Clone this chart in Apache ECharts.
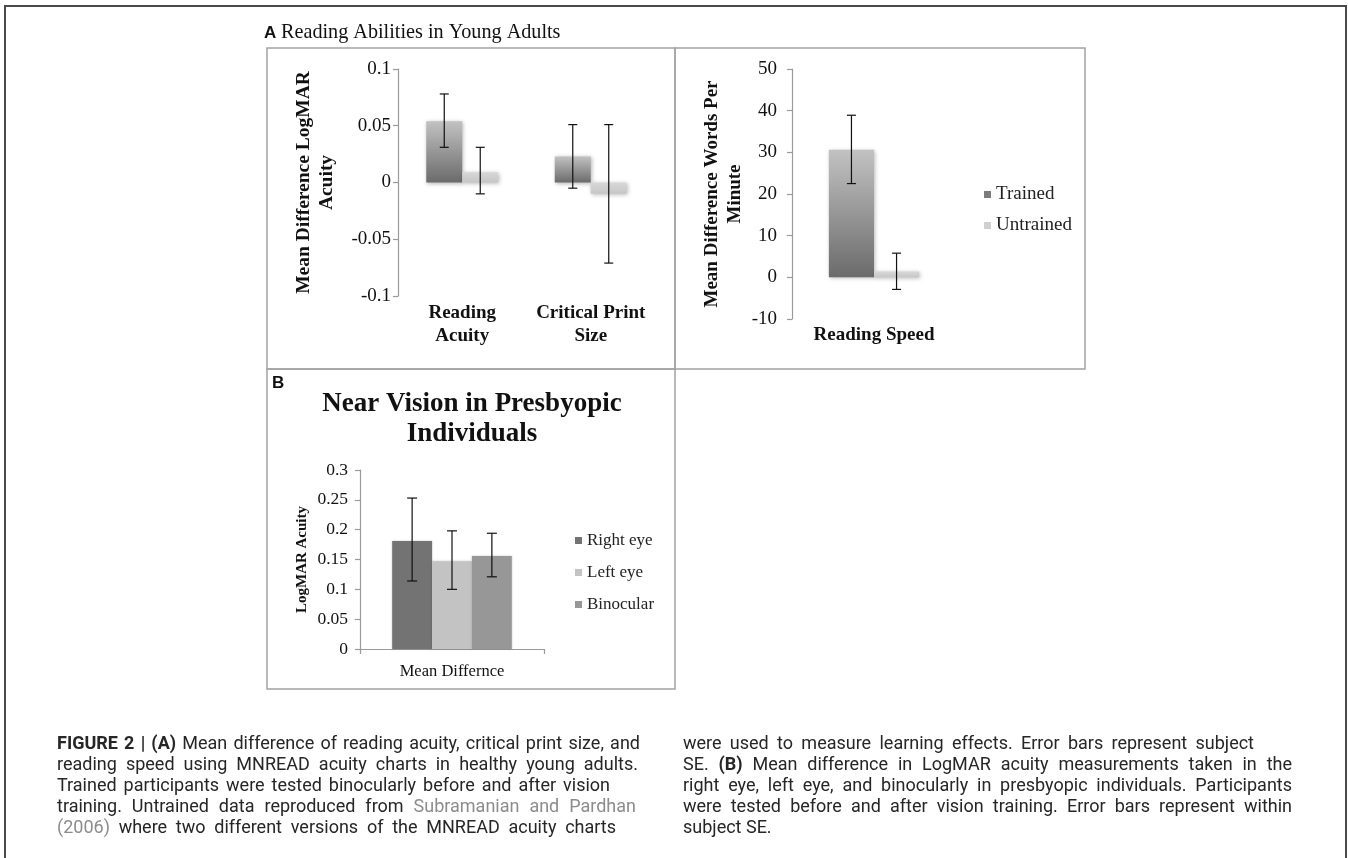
<!DOCTYPE html>
<html><head><meta charset="utf-8">
<script src="https://cdn.jsdelivr.net/npm/echarts@6/dist/echarts.min.js"></script>
<style>html,body{margin:0;padding:0;background:#fff}#c{width:1348px;height:858px}</style>
</head><body><div id="c"></div>
<script>
// ---------- Panel A (left): reading acuity & critical print size ----------
const catsAcuity = ['Reading\nAcuity', 'Critical Print\nSize'];
const trainedAcuity = [0.054, 0.023];
const trainedAcuityLow = [0.031, -0.005];
const trainedAcuityHigh = [0.078, 0.051];
const untrainedAcuity = [0.009, -0.010];
const untrainedAcuityLow = [-0.010, -0.071];
const untrainedAcuityHigh = [0.031, 0.051];
const acuityMin = -0.1, acuityMax = 0.1, acuityStep = 0.05;

// ---------- Panel A (right): reading speed ----------
const catsSpeed = ['Reading Speed'];
const trainedSpeed = [30.6];
const trainedSpeedLow = [22.5];
const trainedSpeedHigh = [38.9];
const untrainedSpeed = [1.4];
const untrainedSpeedLow = [-2.9];
const untrainedSpeedHigh = [5.8];
const speedMin = -10, speedMax = 50, speedStep = 10;

// ---------- Panel B: near vision in presbyopic individuals ----------
const catsNear = ['Mean Differnce'];
const rightEye = [0.181], rightEyeLow = [0.114], rightEyeHigh = [0.253];
const leftEye = [0.147], leftEyeLow = [0.100], leftEyeHigh = [0.198];
const binocular = [0.156], binocularLow = [0.121], binocularHigh = [0.194];
const nearMin = 0, nearMax = 0.3, nearStep = 0.05;

// ---------- caption ----------
const captionLeft = [
  [['FIGURE 2 | (A)', 'b'], [' Mean difference of reading acuity, critical print size, and', '']],
  [['reading speed using MNREAD acuity charts in healthy young adults.', '']],
  [['Trained participants were tested binocularly before and after vision', '']],
  [['training. Untrained data reproduced from ', ''], ['Subramanian and Pardhan', 'g']],
  [['(2006)', 'g'], [' where two different versions of the MNREAD acuity charts', '']]
];
const captionRight = [
  [['were used to measure learning effects. Error bars represent subject', '']],
  [['SE. ', ''], ['(B)', 'b'], [' Mean difference in LogMAR acuity measurements taken in the', '']],
  [['right eye, left eye, and binocularly in presbyopic individuals. Participants', '']],
  [['were tested before and after vision training. Error bars represent within', '']],
  [['subject SE.', '']]
];

const SERIF = 'Liberation Serif';
const gapA = 0.44, gapS = 0.45, gapN = 0.35;

const trainedGrad = {type:'linear', x:0, y:0, x2:0, y2:1, colorStops:[{offset:0,color:'#c2c2c2'},{offset:1,color:'#6b6b6b'}]};
const untrainedGrad = {type:'linear', x:0, y:0, x2:0, y2:1, colorStops:[{offset:0,color:'#d8d8d8'},{offset:1,color:'#c6c6c6'}]};
const shadow = {shadowBlur:4, shadowColor:'rgba(0,0,0,0.28)', shadowOffsetX:1, shadowOffsetY:1};

function errSeries(name, xi, yi, low, high, i, n, gap, cap) {
  return {
    type:'custom', name:name, xAxisIndex:xi, yAxisIndex:yi, z:5, silent:true,
    data: low.map(function(l,k){return [k, l, high[k]];}),
    encode:{x:0, y:[1,2]},
    renderItem: function(params, api){
      const band = api.size([1,0])[0];
      const bw = band*(1-gap)/n;
      const off = -band*(1-gap)/2 + bw*(i+0.5);
      const lo = api.coord([api.value(0), api.value(1)]);
      const hi = api.coord([api.value(0), api.value(2)]);
      const x = lo[0] + off;
      const st = {stroke:'#111', lineWidth:1.2};
      return {type:'group', children:[
        {type:'line', shape:{x1:x,y1:hi[1],x2:x,y2:lo[1]}, style:st},
        {type:'line', shape:{x1:x-cap,y1:hi[1],x2:x+cap,y2:hi[1]}, style:st},
        {type:'line', shape:{x1:x-cap,y1:lo[1],x2:x+cap,y2:lo[1]}, style:st}
      ]};
    }
  };
}

function yAxisOf(gi, mn, mx, step, fs, margin, name, nameGap, nameFs, nameLH) {
  return {
    type:'value', gridIndex:gi, min:mn, max:mx, interval:step,
    splitLine:{show:false},
    axisLine:{show:true, lineStyle:{color:'#9a9a9a', width:1.2}},
    axisTick:{show:true, length:5, lineStyle:{color:'#9a9a9a', width:1.2}},
    axisLabel:{fontFamily:SERIF, fontSize:fs, color:'#111', margin:margin},
    name:name, nameLocation:'middle', nameRotate:90, nameGap:nameGap,
    nameTextStyle:{fontFamily:SERIF, fontWeight:'bold', fontSize:nameFs, color:'#111', lineHeight:nameLH}
  };
}

// caption layout (justified words)
const mctx = document.createElement('canvas').getContext('2d');
const CAP_FAMILY = 'Roboto';
const capLeftX = 57, capRightX = 683;
const capLeftW = [583, 581, 553, 579, 559];
const capRightW = [571, 609, 609, 609, 0];
function fontAt(st, fs){ return (st === 'b' ? 'bold ' : '') + fs + 'px ' + CAP_FAMILY; }
function wordsOf(segs){
  const words = [];
  segs.forEach(function(s){ s[0].split(' ').forEach(function(w){ if (w) words.push({t:w, st:s[1]}); }); });
  return words;
}
function naturalWidth(segs, fs){
  const words = wordsOf(segs);
  let tot = 0;
  words.forEach(function(w){ mctx.font = fontAt(w.st, fs); tot += mctx.measureText(w.t).width; });
  mctx.font = fontAt('', fs);
  return tot + (words.length-1)*mctx.measureText(' ').width;
}
let CAP_FS = 18;
[[captionLeft, capLeftW], [captionRight, capRightW]].forEach(function(p){
  p[0].forEach(function(segs, i){
    if (p[1][i] > 0) CAP_FS = Math.min(CAP_FS, 100 * p[1][i] * 0.975 / naturalWidth(segs, 100));
  });
});
CAP_FS = Math.round(CAP_FS*10)/10;

function captionElements(lines, x0, widths, y0, dy) {
  const out = [];
  lines.forEach(function(segs, li){
    const words = wordsOf(segs);
    let total = 0;
    words.forEach(function(w){ mctx.font = fontAt(w.st, CAP_FS); w.w = mctx.measureText(w.t).width; total += w.w; });
    mctx.font = fontAt('', CAP_FS);
    const sp = mctx.measureText(' ').width;
    let gap = sp;
    if (widths[li] > 0 && words.length > 1) gap = Math.max(sp*0.8, (widths[li] - total)/(words.length-1));
    let x = x0;
    const y = y0 + dy*li;
    words.forEach(function(w){
      out.push({type:'text', x:x, y:y, silent:true, style:{text:w.t, font:fontAt(w.st, CAP_FS),
        fill: w.st === 'g' ? '#8c8c8c' : '#262626', textVerticalAlign:'middle', textAlign:'left'}});
      x += w.w + gap;
    });
  });
  return out;
}

const capL = captionElements(captionLeft, capLeftX, capLeftW, 744, 21);
const capR = captionElements(captionRight, capRightX, capRightW, 744, 21);

const boxStyle = {stroke:'#a3a3a3', lineWidth:1.5, fill:null};
const graphics = [
  {type:'rect', shape:{x:5, y:6, width:1341, height:900}, style:{stroke:'#4a4a4a', lineWidth:2, fill:null}, silent:true},
  {type:'rect', shape:{x:267, y:48, width:408, height:321}, style:boxStyle, silent:true},
  {type:'rect', shape:{x:675, y:48, width:410, height:321}, style:boxStyle, silent:true},
  {type:'rect', shape:{x:267, y:369, width:408, height:320}, style:boxStyle, silent:true},
  {type:'text', x:264, y:33, style:{text:'A', font:'bold 17px "Liberation Sans"', fill:'#111', textVerticalAlign:'middle'}},
  {type:'text', x:281, y:33, style:{text:'Reading Abilities in Young Adults', font:'20.2px "Liberation Serif"', fill:'#111', textVerticalAlign:'middle'}},
  {type:'text', x:272, y:383, style:{text:'B', font:'bold 17px "Liberation Sans"', fill:'#111', textVerticalAlign:'middle'}},
  {type:'text', x:472, y:419, style:{text:'Near Vision in Presbyopic\nIndividuals', font:'bold 27px "Liberation Serif"', lineHeight:30, fill:'#111', textAlign:'center', textVerticalAlign:'middle'}}
].concat(capL, capR);

const option = {
  animation:false,
  backgroundColor:'#fff',
  graphic: graphics,
  grid:[
    {left:398, top:69, width:257, height:227},
    {left:792, top:69, width:164, height:250},
    {left:360, top:470, width:184, height:179}
  ],
  xAxis:[
    {type:'category', gridIndex:0, data:catsAcuity, axisLine:{show:false, onZero:false}, axisTick:{show:false},
     axisLabel:{fontFamily:SERIF, fontWeight:'bold', fontSize:19, lineHeight:23, color:'#111', margin:6, interval:0}},
    {type:'category', gridIndex:1, data:catsSpeed, axisLine:{show:false, onZero:false}, axisTick:{show:false},
     axisLabel:{fontFamily:SERIF, fontWeight:'bold', fontSize:19, lineHeight:23, color:'#111', margin:5}},
    {type:'category', gridIndex:2, data:catsNear, axisLine:{show:true, onZero:false, lineStyle:{color:'#9a9a9a', width:1.2}},
     axisTick:{show:true, length:5, lineStyle:{color:'#9a9a9a', width:1.2}},
     axisLabel:{fontFamily:SERIF, fontSize:16.5, color:'#111', margin:14}}
  ],
  yAxis:[
    yAxisOf(0, acuityMin, acuityMax, acuityStep, 19, 7, 'Mean Difference LogMAR\nAcuity', 60, 19.5, 23),
    yAxisOf(1, speedMin, speedMax, speedStep, 19, 15, 'Mean Difference Words Per\nMinute', 45, 19, 23),
    yAxisOf(2, nearMin, nearMax, nearStep, 17.5, 12, 'LogMAR Acuity', 49, 15, 18)
  ],
  legend:[
    {data:[{name:'Trained', itemStyle:{color:'#7b7b7b', shadowBlur:0}}, {name:'Untrained', itemStyle:{color:'#d0d0d0', shadowBlur:0}}],
     orient:'vertical', left:984, top:185, padding:0, itemWidth:7, itemHeight:7, itemGap:12, icon:'rect',
     textStyle:{fontFamily:SERIF, fontSize:19, color:'#222'}},
    {data:[{name:'Right eye', itemStyle:{shadowBlur:0}}, {name:'Left eye', itemStyle:{shadowBlur:0}}, {name:'Binocular', itemStyle:{shadowBlur:0}}],
     orient:'vertical', left:575, top:532, padding:0, itemWidth:7, itemHeight:7, itemGap:15, icon:'rect',
     textStyle:{fontFamily:SERIF, fontSize:17, color:'#222'}}
  ],
  series:[
    {type:'bar', name:'Trained', xAxisIndex:0, yAxisIndex:0, data:trainedAcuity, barGap:'0%', barCategoryGap:(gapA*100)+'%',
     itemStyle:Object.assign({color:trainedGrad}, shadow)},
    {type:'bar', name:'Untrained', xAxisIndex:0, yAxisIndex:0, data:untrainedAcuity, barGap:'0%', barCategoryGap:(gapA*100)+'%',
     itemStyle:Object.assign({color:untrainedGrad}, shadow)},
    errSeries('Trained SE', 0, 0, trainedAcuityLow, trainedAcuityHigh, 0, 2, gapA, 4.5),
    errSeries('Untrained SE', 0, 0, untrainedAcuityLow, untrainedAcuityHigh, 1, 2, gapA, 4.5),

    {type:'bar', name:'Trained', xAxisIndex:1, yAxisIndex:1, data:trainedSpeed, barGap:'0%', barCategoryGap:(gapS*100)+'%',
     itemStyle:Object.assign({color:trainedGrad}, shadow)},
    {type:'bar', name:'Untrained', xAxisIndex:1, yAxisIndex:1, data:untrainedSpeed, barGap:'0%', barCategoryGap:(gapS*100)+'%',
     itemStyle:Object.assign({color:untrainedGrad}, shadow)},
    errSeries('Trained speed SE', 1, 1, trainedSpeedLow, trainedSpeedHigh, 0, 2, gapS, 4.5),
    errSeries('Untrained speed SE', 1, 1, untrainedSpeedLow, untrainedSpeedHigh, 1, 2, gapS, 4.5),

    {type:'bar', name:'Right eye', xAxisIndex:2, yAxisIndex:2, data:rightEye, barGap:'0%', barCategoryGap:(gapN*100)+'%',
     itemStyle:{color:'#737373', shadowBlur:2, shadowColor:'rgba(0,0,0,0.2)'}},
    {type:'bar', name:'Left eye', xAxisIndex:2, yAxisIndex:2, data:leftEye, barGap:'0%', barCategoryGap:(gapN*100)+'%',
     itemStyle:{color:'#c3c3c3', shadowBlur:2, shadowColor:'rgba(0,0,0,0.2)'}},
    {type:'bar', name:'Binocular', xAxisIndex:2, yAxisIndex:2, data:binocular, barGap:'0%', barCategoryGap:(gapN*100)+'%',
     itemStyle:{color:'#979797', shadowBlur:2, shadowColor:'rgba(0,0,0,0.2)'}},
    errSeries('Right eye SE', 2, 2, rightEyeLow, rightEyeHigh, 0, 3, gapN, 5),
    errSeries('Left eye SE', 2, 2, leftEyeLow, leftEyeHigh, 1, 3, gapN, 5),
    errSeries('Binocular SE', 2, 2, binocularLow, binocularHigh, 2, 3, gapN, 5)
  ]
};

const chart = echarts.init(document.getElementById('c'), null, {renderer:'canvas'});
chart.setOption(option);
</script>
</body></html>
